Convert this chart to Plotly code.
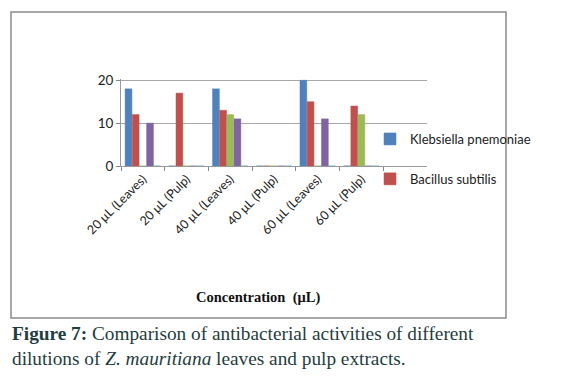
import plotly.graph_objects as go

categories = ["20 μL (Leaves)", "20 μL (Pulp)", "40 μL (Leaves)", "40 μL (Pulp)", "60 μL (Leaves)", "60 μL (Pulp)"]
klebsiella = [18, 0, 18, 0, 20, 0]
bacillus = [12, 17, 13, 0, 15, 14]
series3 = [0, 0, 12, 0, 0, 12]
series4 = [10, 0, 11, 0, 11, 0]
series5 = [0, 0, 0, 0, 0, 0]
y_ticks = [0, 10, 20]

series = [
    ("Klebsiella pnemoniae", klebsiella, "#4F81BD", True),
    ("Bacillus subtilis", bacillus, "#C0504D", True),
    ("Series 3", series3, "#9BBB59", False),
    ("Series 4", series4, "#8064A2", False),
    ("Series 5", series5, "#4BACC6", False),
]

fig = go.Figure()
for i, (name, vals, col, show) in enumerate(series):
    fig.add_trace(go.Bar(
        x=categories, y=vals, name=name, marker=dict(color=col, line=dict(color=col, width=0.5)),
        showlegend=show, legendgroup=f"g{i}"
    ))

W, H = 568, 379
L, R, T, B = 121, 427, 79, 166
fig.update_layout(
    width=W, height=H,
    margin=dict(l=L, r=W - R, t=T, b=H - B, autoexpand=False),
    paper_bgcolor="white", plot_bgcolor="white",
    barmode="group", bargap=0.18, bargroupgap=0.05,
    font=dict(family="Lato, Open Sans, sans-serif", size=12, color="#222"),
    legend=dict(x=(370 - L) / (R - L), y=(B - 124) / (B - T), xanchor="left", yanchor="top",
                tracegroupgap=20, traceorder="grouped", font=dict(size=13, color="#222"),
                bgcolor="rgba(0,0,0,0)", itemwidth=30),
)
fig.update_xaxes(
    range=[-0.5, 6.5], tickangle=-45, tickson="boundaries", ticks="outside", ticklen=4,
    tickcolor="#888", showline=True, linecolor="#999", linewidth=1, tickfont=dict(size=12.5, color="#222"),
)
fig.update_yaxes(
    range=[0, 20.3], tickvals=y_ticks, ticks="outside", ticklen=4, tickcolor="#888",
    showline=True, linecolor="#999", showgrid=True, gridcolor="#a8a8a8", gridwidth=1,
    tickfont=dict(size=13.5, color="#222"), zeroline=False,
)

def px_x(p):
    return (p - L) / (R - L)

def px_y(p):
    return (B - p) / (B - T)

fig.add_shape(type="rect", xref="paper", yref="paper", x0=px_x(11), x1=px_x(506), y0=px_y(318), y1=px_y(12),
              line=dict(color="#8c8c8c", width=1.5), layer="below")

fig.add_annotation(
    xref="paper", yref="paper", x=px_x(258), y=px_y(297), xanchor="center", yanchor="middle", showarrow=False,
    text="<b>Concentration  (μL)</b>",
    font=dict(family="Liberation Serif, Times New Roman, serif", size=14.5, color="#111"),
)

fig.add_annotation(
    xref="paper", yref="paper", x=px_x(10), y=px_y(321), xanchor="left", yanchor="top", showarrow=False, align="left",
    text="<b>Figure 7:</b> Comparison of antibacterial activities of different<br>dilutions of <i>Z. mauritiana</i> leaves and pulp extracts.",
    font=dict(family="Liberation Serif, Times New Roman, serif", size=19.3, color="#1f3d3d"),
)

fig.write_html("out.html", config={"displayModeBar": False}, post_script="document.body.style.margin='0';")
